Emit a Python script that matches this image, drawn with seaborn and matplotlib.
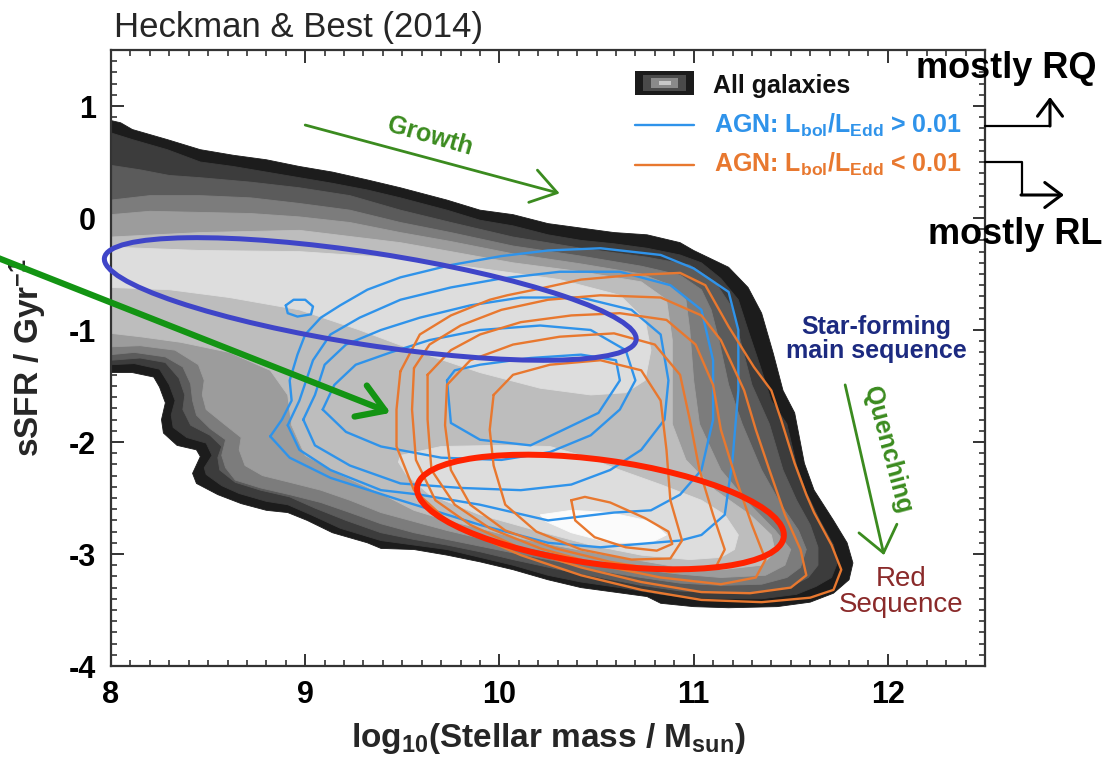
import numpy as np
import pandas as pd
import matplotlib
matplotlib.use("Agg")
import matplotlib.pyplot as plt
import seaborn as sns
from matplotlib.patches import Ellipse, Rectangle, FancyArrowPatch
from matplotlib.lines import Line2D
from matplotlib.transforms import ScaledTranslation
from matplotlib.ticker import MultipleLocator

# ---------------- axes ----------------
x_ticks = [8, 9, 10, 11, 12]
y_ticks = [-4, -3, -2, -1, 0, 1]
x_limits = [8.0, 12.5]
y_limits = [-4.0, 1.5]

# ---------------- "All galaxies" filled density levels (outer -> inner) ----------------
lvl0_x = [8.00,8.05,8.11,8.29,8.46,8.63,8.80,8.97,9.14,9.32,9.49,9.73,9.90,10.07,10.25,10.42,10.59,10.76,10.93,11.00,
          11.18,11.28,11.35,11.41,11.46,11.52,11.57,11.62,11.72,11.79,11.82,11.80,11.72,11.60,11.43,11.18,11.00,10.83,10.76,10.59,
          10.42,10.25,10.07,9.90,9.73,9.56,9.39,9.32,9.14,9.01,8.91,8.80,8.67,8.55,8.44,8.42,8.46,8.44,8.34,8.27,
          8.26,8.28,8.25,8.22,8.11,8.00]
lvl0_y = [0.87,0.85,0.79,0.70,0.61,0.56,0.52,0.46,0.41,0.34,0.27,0.16,0.07,0.03,-0.05,-0.09,-0.13,-0.15,-0.22,-0.29,
          -0.44,-0.62,-0.85,-1.21,-1.54,-1.74,-2.19,-2.43,-2.70,-2.90,-3.08,-3.23,-3.35,-3.43,-3.47,-3.48,-3.47,-3.44,-3.38,-3.34,
          -3.30,-3.23,-3.14,-3.07,-3.01,-2.96,-2.95,-2.90,-2.81,-2.70,-2.63,-2.61,-2.55,-2.47,-2.37,-2.28,-2.13,-2.07,-2.03,-1.92,
          -1.80,-1.65,-1.51,-1.42,-1.38,-1.38]
lvl1_x = [8.00,8.11,8.29,8.46,8.63,8.80,8.97,9.14,9.32,9.49,9.73,9.90,10.07,10.25,10.42,10.59,10.76,10.93,11.04,11.14,
          11.23,11.28,11.34,11.40,11.48,11.53,11.58,11.65,11.72,11.74,11.71,11.63,11.53,11.35,11.14,10.98,10.83,10.62,10.42,10.25,
          10.07,9.90,9.73,9.56,9.39,9.18,9.03,8.91,8.80,8.66,8.57,8.49,8.48,8.52,8.49,8.39,8.32,8.31,8.33,8.30,
          8.25,8.12,8.00]
lvl1_y = [0.76,0.70,0.61,0.50,0.46,0.41,0.36,0.31,0.25,0.18,0.07,-0.02,-0.07,-0.15,-0.20,-0.23,-0.27,-0.33,-0.40,-0.54,
          -0.73,-1.00,-1.31,-1.63,-1.84,-2.21,-2.45,-2.70,-2.92,-3.08,-3.21,-3.29,-3.36,-3.40,-3.40,-3.39,-3.36,-3.30,-3.25,-3.19,
          -3.10,-3.03,-2.96,-2.92,-2.88,-2.77,-2.65,-2.56,-2.53,-2.46,-2.39,-2.29,-2.23,-2.12,-2.01,-1.96,-1.87,-1.76,-1.63,-1.49,
          -1.35,-1.30,-1.31]
lvl2_x = [8.00,8.15,8.30,8.46,8.72,8.97,9.23,9.49,9.75,10.07,10.42,10.76,10.98,11.11,11.19,11.24,11.30,11.39,11.46,11.53,
          11.60,11.64,11.64,11.59,11.50,11.35,11.14,10.93,10.73,10.52,10.31,10.07,9.90,9.73,9.56,9.39,9.21,9.05,8.92,8.77,
          8.64,8.56,8.55,8.57,8.51,8.41,8.37,8.38,8.35,8.28,8.15,8.00]
lvl2_y = [0.47,0.43,0.38,0.36,0.32,0.27,0.20,0.07,-0.04,-0.17,-0.27,-0.35,-0.42,-0.57,-0.78,-1.09,-1.49,-1.84,-2.25,-2.52,
          -2.74,-2.94,-3.10,-3.21,-3.29,-3.34,-3.35,-3.33,-3.28,-3.21,-3.14,-3.05,-2.98,-2.92,-2.87,-2.81,-2.70,-2.59,-2.49,-2.43,
          -2.36,-2.25,-2.14,-2.04,-1.94,-1.85,-1.71,-1.58,-1.43,-1.29,-1.25,-1.27]
lvl3_x = [8.00,8.20,8.46,8.72,8.97,9.23,9.49,9.75,10.07,10.42,10.73,10.93,11.04,11.09,11.13,11.18,11.25,11.35,11.45,11.54,
          11.58,11.55,11.48,11.35,11.14,10.93,10.73,10.52,10.31,10.07,9.90,9.73,9.56,9.39,9.23,9.08,8.92,8.77,8.64,8.59,
          8.57,8.59,8.51,8.44,8.42,8.41,8.37,8.28,8.12,8.00]
lvl3_y = [0.16,0.20,0.20,0.18,0.13,0.07,-0.04,-0.13,-0.25,-0.34,-0.43,-0.51,-0.64,-0.82,-1.09,-1.49,-1.84,-2.25,-2.56,-2.79,
          -2.96,-3.12,-3.21,-3.27,-3.28,-3.26,-3.21,-3.15,-3.07,-2.99,-2.93,-2.87,-2.81,-2.73,-2.63,-2.54,-2.47,-2.41,-2.34,-2.23,
          -2.12,-1.98,-1.88,-1.76,-1.63,-1.48,-1.33,-1.24,-1.20,-1.22]
lvl4_x = [8.00,8.20,8.46,8.72,8.97,9.23,9.49,9.75,10.07,10.42,10.73,10.88,10.96,10.98,11.00,11.03,11.14,11.29,11.42,11.50,
          11.47,11.37,11.14,10.93,10.73,10.52,10.31,10.07,9.90,9.73,9.56,9.39,9.23,9.08,8.92,8.78,8.69,8.66,8.67,8.59,
          8.49,8.47,8.48,8.45,8.33,8.15,8.00]
lvl4_y = [0.03,0.06,0.05,0.04,0.01,-0.04,-0.13,-0.21,-0.32,-0.41,-0.50,-0.60,-0.73,-1.00,-1.45,-1.84,-2.25,-2.56,-2.79,-2.96,
          -3.10,-3.19,-3.21,-3.18,-3.14,-3.08,-3.00,-2.92,-2.86,-2.79,-2.71,-2.63,-2.52,-2.43,-2.36,-2.30,-2.21,-2.07,-1.96,-1.85,
          -1.71,-1.58,-1.45,-1.31,-1.18,-1.14,-1.15]
lvl5_x = [8.00,8.46,8.97,9.49,9.75,10.07,10.42,10.73,10.86,10.89,10.89,10.89,10.96,11.11,11.29,11.40,11.42,11.35,11.14,10.93,
          10.73,10.52,10.31,10.07,9.90,9.73,9.56,9.39,9.18,9.00,8.93,8.91,8.82,8.61,8.36,8.15,8.00]
lvl5_y = [-0.17,-0.13,-0.11,-0.22,-0.30,-0.40,-0.48,-0.57,-0.73,-1.09,-1.45,-1.84,-2.16,-2.43,-2.65,-2.83,-2.98,-3.10,-3.14,-3.12,
          -3.06,-3.00,-2.93,-2.85,-2.77,-2.70,-2.61,-2.46,-2.29,-2.12,-1.85,-1.58,-1.36,-1.20,-1.11,-1.06,-1.03]
lvl6a_x = [8.00,8.46,8.97,9.49,9.90,10.31,10.62,10.75,10.78,10.75,10.65,10.47,10.21,9.90,9.59,9.28,8.97,8.61,8.30,8.00]
lvl6a_y = [-0.26,-0.29,-0.30,-0.36,-0.45,-0.55,-0.69,-0.91,-1.18,-1.45,-1.56,-1.58,-1.52,-1.38,-1.20,-1.00,-0.82,-0.71,-0.64,-0.62]
lvl6b_x = [9.49,9.70,10.01,10.26,10.42,10.62,10.83,11.04,11.16,11.23,11.21,11.14,10.98,10.73,10.47,10.21,9.90,9.64,9.52,9.48]
lvl6b_y = [-2.12,-2.04,-2.03,-2.04,-2.12,-2.25,-2.38,-2.52,-2.65,-2.83,-2.96,-3.03,-3.05,-3.01,-2.92,-2.80,-2.65,-2.47,-2.29,-2.18]
lvl7_x = [10.21,10.37,10.57,10.78,10.86,10.78,10.57,10.37,10.24]
lvl7_y = [-2.65,-2.61,-2.63,-2.71,-2.83,-2.90,-2.90,-2.81,-2.71]
level_colors = ['#1c1c1c', '#3c3c3c', '#5b5b5b', '#7c7c7c', '#9c9c9c', '#bdbdbd', '#dddddd', '#dddddd', '#fbfbfb']

# ---------------- AGN Lbol/LEdd > 0.01 contours (blue) ----------------
b1_x = [8.82,8.88,8.93,8.92,8.96,9.00,9.08,9.18,9.32,9.49,9.75,10.01,10.25,10.52,10.83,11.00,11.18,11.23,11.23,11.20,
        11.16,11.04,10.93,10.52,10.25,9.90,9.49,9.13,8.92]
b1_y = [-1.95,-1.80,-1.63,-1.45,-1.22,-1.04,-0.89,-0.78,-0.64,-0.53,-0.42,-0.34,-0.29,-0.27,-0.33,-0.45,-0.66,-1.00,-1.54,-2.16,
        -2.65,-2.83,-2.88,-2.94,-2.90,-2.74,-2.52,-2.32,-2.14]
b2_x = [8.91,8.97,9.04,9.13,9.28,9.49,9.75,10.01,10.31,10.62,10.88,11.04,11.10,11.10,11.04,10.93,10.78,10.59,10.25,9.90,
        9.59,9.39,9.13,8.97]
b2_y = [-1.85,-1.63,-1.27,-1.04,-0.89,-0.73,-0.62,-0.54,-0.48,-0.48,-0.60,-0.82,-1.27,-1.80,-2.25,-2.47,-2.61,-2.63,-2.70,-2.56,
        -2.47,-2.43,-2.25,-2.07]
b3_x = [8.99,9.05,9.10,9.21,9.39,9.59,9.85,10.11,10.42,10.68,10.83,10.87,10.85,10.73,10.57,10.37,10.11,9.80,9.49,9.23,9.05]
b3_y = [-1.80,-1.58,-1.31,-1.13,-1.00,-0.89,-0.78,-0.71,-0.71,-0.82,-1.04,-1.45,-1.80,-2.07,-2.25,-2.38,-2.43,-2.41,-2.37,-2.21,-2.03]
b4_x = [9.09,9.15,9.26,9.44,9.64,9.90,10.21,10.47,10.65,10.70,10.62,10.47,10.26,10.01,9.70,9.39,9.21]
b4_y = [-1.71,-1.49,-1.31,-1.20,-1.09,-1.00,-0.96,-1.00,-1.18,-1.45,-1.71,-1.94,-2.09,-2.16,-2.14,-2.04,-1.91]
b5_x = [9.73,9.75,9.90,10.16,10.33,10.51,10.62,10.60,10.42,10.16,9.90,9.77]
b5_y = [-1.45,-1.83,-1.98,-2.03,-1.89,-1.74,-1.45,-1.27,-1.22,-1.25,-1.31,-1.36]
b6_x = [8.90,8.94,9.00,9.04,9.03,8.96,8.91]
b6_y = [-0.78,-0.73,-0.73,-0.79,-0.86,-0.88,-0.85]

# ---------------- AGN Lbol/LEdd < 0.01 contours (orange) ----------------
o1_x = [9.49,9.59,9.75,9.95,10.04,10.21,10.42,10.68,10.93,11.06,11.18,11.31,11.40,11.45,11.52,11.58,11.62,11.71,11.76,11.72,
        11.60,11.35,11.04,10.73,10.42,10.11,9.90,9.73,9.56,9.47,9.47]
o1_y = [-1.37,-1.04,-0.87,-0.73,-0.69,-0.63,-0.55,-0.51,-0.49,-0.60,-0.97,-1.33,-1.54,-1.80,-2.19,-2.47,-2.63,-2.92,-3.14,-3.32,
        -3.39,-3.43,-3.41,-3.32,-3.19,-3.01,-2.85,-2.70,-2.43,-2.04,-1.71]
o2_x = [9.56,9.64,9.80,10.01,10.25,10.52,10.83,11.04,11.14,11.26,11.32,11.39,11.47,11.55,11.58,11.50,11.29,11.04,10.73,10.42,
        10.11,9.85,9.67,9.57,9.55]
o2_y = [-1.34,-1.13,-0.96,-0.82,-0.73,-0.69,-0.71,-0.87,-1.09,-1.54,-1.89,-2.25,-2.65,-2.96,-3.19,-3.30,-3.35,-3.34,-3.25,-3.12,
        -2.95,-2.74,-2.52,-2.16,-1.71]
o3_x = [9.63,9.75,9.90,10.11,10.37,10.62,10.86,11.01,11.10,11.14,11.22,11.30,11.37,11.32,11.14,10.83,10.52,10.21,9.95,9.77,
        9.65,9.63]
o3_y = [-1.40,-1.18,-1.04,-0.93,-0.87,-0.85,-0.91,-1.13,-1.49,-1.89,-2.34,-2.74,-3.05,-3.21,-3.27,-3.21,-3.10,-2.95,-2.77,-2.56,
        -2.25,-1.80]
o4_x = [9.73,9.85,10.07,10.31,10.59,10.80,10.93,10.98,11.03,11.10,11.16,11.11,10.88,10.57,10.29,10.03,9.85,9.75,9.72]
o4_y = [-1.49,-1.27,-1.13,-1.06,-1.03,-1.13,-1.40,-1.80,-2.25,-2.65,-2.96,-3.13,-3.16,-3.07,-2.95,-2.79,-2.56,-2.25,-1.85]
o5_x = [9.97,10.07,10.26,10.52,10.73,10.83,10.86,10.88,10.94,10.88,10.68,10.42,10.19,10.03,9.97,9.95]
o5_y = [-1.58,-1.40,-1.31,-1.27,-1.36,-1.63,-2.07,-2.52,-2.88,-3.04,-3.05,-2.96,-2.80,-2.56,-2.21,-1.89]
o6_x = [10.37,10.44,10.57,10.75,10.87,10.89,10.81,10.65,10.49,10.39]
o6_y = [-2.52,-2.49,-2.54,-2.68,-2.80,-2.91,-2.97,-2.94,-2.85,-2.70]

# ---------------- hand-drawn ellipses (centre in data units, size in inches) ----------------
blue_ell_center = (9.335, -0.723)
blue_ell_size = (5.38, 0.92)
blue_ell_angle = -8.8
red_ell_center = (10.52, -2.625)
red_ell_size = (3.70, 1.04)
red_ell_angle = -7.8

# ---------------- colours ----------------
C_BLUE = '#2f93ea'
C_ORANGE = '#e8782f'
C_GREEN = '#3b8b1f'
C_GREEN2 = '#139413'
C_NAVY = '#1c2a80'
C_DRED = '#8a2a2a'

# =====================================================================
sns.set_theme(style="ticks")
plt.rcParams['font.family'] = ['Liberation Sans', 'DejaVu Sans']
plt.rcParams['mathtext.fontset'] = 'custom'
plt.rcParams['mathtext.rm'] = 'Liberation Sans'
plt.rcParams['mathtext.it'] = 'Liberation Sans:italic'
plt.rcParams['mathtext.bf'] = 'Liberation Sans:bold'
plt.rcParams['axes.unicode_minus'] = False

W, H = 1106, 759
fig = plt.figure(figsize=(W / 100, H / 100), dpi=100)
ax = fig.add_axes([111 / W, 1 - 666 / H, (985 - 111) / W, (666 - 50) / H])


def fx(px):
    return px / W


def fy(py):
    return 1 - py / H


# filled grey levels
levels = [(lvl0_x, lvl0_y), (lvl1_x, lvl1_y), (lvl2_x, lvl2_y), (lvl3_x, lvl3_y), (lvl4_x, lvl4_y),
          (lvl5_x, lvl5_y), (lvl6a_x, lvl6a_y), (lvl6b_x, lvl6b_y), (lvl7_x, lvl7_y)]
for (xs, ys), c in zip(levels, level_colors):
    ax.fill(xs, ys, color=c, ec=c, lw=0.6, zorder=1)


def ring(xs, ys, color):
    df = pd.DataFrame({'x': list(xs) + [xs[0]], 'y': list(ys) + [ys[0]]})
    sns.lineplot(data=df, x='x', y='y', sort=False, estimator=None, color=color,
                 lw=1.7, ax=ax, zorder=2)


for xs, ys in [(b1_x, b1_y), (b2_x, b2_y), (b3_x, b3_y), (b4_x, b4_y), (b5_x, b5_y), (b6_x, b6_y)]:
    ring(xs, ys, C_BLUE)
for xs, ys in [(o1_x, o1_y), (o2_x, o2_y), (o3_x, o3_y), (o4_x, o4_y), (o5_x, o5_y), (o6_x, o6_y)]:
    ring(xs, ys, C_ORANGE)


def px_ellipse(center, size, ang, color, lw):
    tr = fig.dpi_scale_trans + ScaledTranslation(center[0], center[1], ax.transData)
    e = Ellipse((0, 0), size[0], size[1], angle=ang, transform=tr, fill=False,
                ec=color, lw=lw, zorder=4, clip_on=False)
    ax.add_artist(e)


px_ellipse(blue_ell_center, blue_ell_size, blue_ell_angle, '#3f45c8', 3.6)
px_ellipse(red_ell_center, red_ell_size, red_ell_angle, '#ff2200', 4.3)

# axes styling
ax.set_xlim(*x_limits)
ax.set_ylim(*y_limits)
ax.set_xticks(x_ticks)
ax.set_yticks(y_ticks)
ax.set_xticklabels([str(t) for t in x_ticks])
ax.set_yticklabels([str(t) for t in y_ticks])
ax.xaxis.set_minor_locator(MultipleLocator(0.1))
ax.yaxis.set_minor_locator(MultipleLocator(0.1))
ax.tick_params(which='major', direction='in', length=9, width=1.4, color='#333333',
               top=True, right=True, labelsize=22, labelcolor='black')
ax.tick_params(axis='x', which='major', pad=10)
ax.tick_params(axis='y', which='major', pad=11)
ax.tick_params(which='minor', direction='in', length=4.5, width=1.2, color='#333333',
               top=True, right=True)
for lab in ax.get_xticklabels() + ax.get_yticklabels():
    lab.set_fontweight('bold')
for s in ax.spines.values():
    s.set_linewidth(1.6)
    s.set_color('#333333')
ax.grid(False)

ax.set_xlabel(r"log$_{\mathbf{10}}$(Stellar mass / M$_{\mathbf{sun}}$)", fontsize=24,
              fontweight='bold', labelpad=8)
ax.set_ylabel(r"sSFR / Gyr$^{\mathbf{-1}}$", fontsize=24, fontweight='bold', labelpad=14)

# title
fig.text(fx(114), fy(37), "Heckman & Best (2014)", fontsize=25, ha='left', va='baseline')

# in-plot annotations
ax.annotate('', xy=(10.31, 0.22), xytext=(9.0, 0.83),
            arrowprops=dict(arrowstyle='->,head_length=0.9,head_width=0.6', color=C_GREEN,
                            lw=2.0, mutation_scale=20, shrinkA=0, shrinkB=0), zorder=5)
ax.text(9.644, 0.732, "Growth", color=C_GREEN, fontsize=18, fontweight='bold',
        rotation=-16, ha='center', va='center', zorder=5)
ax.annotate('', xy=(11.98, -3.01), xytext=(11.78, -1.49),
            arrowprops=dict(arrowstyle='->,head_length=0.9,head_width=0.7', color=C_GREEN,
                            lw=2.0, mutation_scale=20, shrinkA=0, shrinkB=0), zorder=5)
ax.text(12.0, -2.07, "Quenching", color=C_GREEN, fontsize=18, fontweight='bold',
        rotation=-75, ha='center', va='center', zorder=5)
ax.text(11.94, -1.08, "Star-forming\nmain sequence", color=C_NAVY, fontsize=18,
        fontweight='bold', ha='center', va='center', linespacing=1.0, zorder=5)
ax.text(12.07, -3.34, "Red\nSequence", color=C_DRED, fontsize=20,
        ha='center', va='center', linespacing=1.0, zorder=5)

# legend (drawn by hand inside the axes)
for (x0, y0, x1, y1), c in zip([(635, 71, 694, 95), (643, 75, 686, 91), (651, 78, 678, 88), (659, 81, 671, 85)],
                               ['#1b1b1b', '#4a4a4a', '#8a8a8a', '#c8c8c8']):
    fig.add_artist(Rectangle((fx(x0), fy(y1)), (x1 - x0) / W, (y1 - y0) / H,
                             transform=fig.transFigure, color=c, lw=0, zorder=6))
fig.text(fx(713), fy(93), "All galaxies", fontsize=18, fontweight='bold', color='#111111',
         ha='left', va='baseline', zorder=6)
fig.add_artist(Line2D([fx(635), fx(694)], [fy(125), fy(125)], transform=fig.transFigure,
                      color=C_BLUE, lw=1.7, zorder=6))
fig.add_artist(Line2D([fx(635), fx(694)], [fy(165), fy(165)], transform=fig.transFigure,
                      color=C_ORANGE, lw=1.7, zorder=6))
fig.text(fx(714), fy(133), r"AGN: L$_{\mathbf{bol}}$/L$_{\mathbf{Edd}}$ > 0.01", fontsize=18,
         fontweight='bold', color=C_BLUE, ha='left', va='baseline', zorder=6)
fig.text(fx(714), fy(172), r"AGN: L$_{\mathbf{bol}}$/L$_{\mathbf{Edd}}$ < 0.01", fontsize=18,
         fontweight='bold', color=C_ORANGE, ha='left', va='baseline', zorder=6)

# outside annotations: mostly RQ / mostly RL
fig.text(fx(1006), fy(78), "mostly RQ", fontsize=26, fontweight='bold', color='black',
         ha='center', va='baseline')
fig.text(fx(1015), fy(244), "mostly RL", fontsize=26, fontweight='bold', color='black',
         ha='center', va='baseline')
fig.add_artist(Line2D([fx(985), fx(1050)], [fy(126), fy(126)], transform=fig.transFigure,
                      color='black', lw=1.6))
fig.add_artist(Line2D([fx(985), fx(1022), fx(1022)], [fy(162), fy(162), fy(195)],
                      transform=fig.transFigure, color='black', lw=1.6))
fig.add_artist(FancyArrowPatch((fx(1050), fy(126)), (fx(1050), fy(97)),
               transform=fig.transFigure, arrowstyle='->,head_length=0.6,head_width=0.45',
               mutation_scale=20, color='black', lw=2.2, shrinkA=0, shrinkB=0))
fig.add_artist(FancyArrowPatch((fx(1021), fy(195)), (fx(1064), fy(195)),
               transform=fig.transFigure, arrowstyle='->,head_length=0.6,head_width=0.45',
               mutation_scale=20, color='black', lw=2.2, shrinkA=0, shrinkB=0))

# big green arrow entering from the left edge
ax.annotate('', xy=(9.44, -1.74), xycoords='data', xytext=(-0.005, 0.662),
            textcoords='figure fraction',
            arrowprops=dict(arrowstyle='->,head_length=0.95,head_width=0.6', color=C_GREEN2,
                            lw=4.5, mutation_scale=20, shrinkA=0, shrinkB=0),
            annotation_clip=False, zorder=7)

fig.savefig('out.png', dpi=100)
